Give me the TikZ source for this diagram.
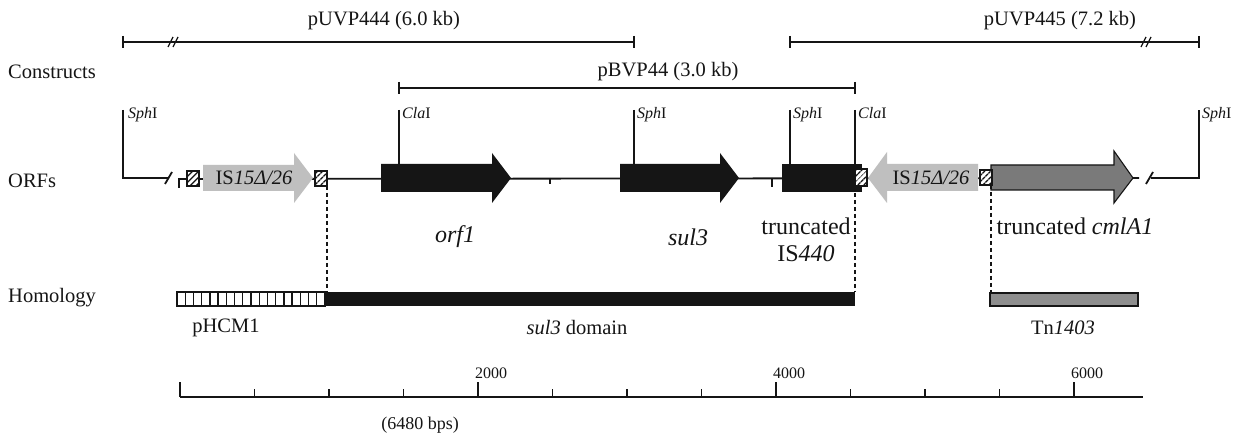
\documentclass[tikz,border=0pt]{standalone}
\usepackage{fontspec}
\setmainfont{Liberation Serif}
\usetikzlibrary{patterns.meta,calc}
\definecolor{ink}{HTML}{151515}
\definecolor{isgrey}{HTML}{BFBFBF}
\definecolor{cmlgrey}{HTML}{7A7A7A}
\definecolor{tngrey}{HTML}{8E8E8E}
\tikzset{
  lbl/.style={font=\fontsize{20.5}{24}\selectfont, inner sep=0pt, text=ink},
  orflbl/.style={font=\fontsize{24}{27}\selectfont, inner sep=0pt, text=ink},
  sitelbl/.style={font=\fontsize{16}{18}\selectfont, inner sep=0pt, anchor=north west, text=ink},
  numlbl/.style={font=\fontsize{16}{18}\selectfont, inner sep=0pt, anchor=south west, text=ink},
  mapline/.style={line width=1.8pt, draw=ink},
  dashline/.style={line width=1.4pt, draw=ink, dash pattern=on 4pt off 3pt},
  hatchbox/.style={draw=ink, line width=1.1pt, fill=white,
    postaction={pattern={Lines[angle=45,distance=4pt,line width=1.5pt]}, pattern color=ink}},
  blackgene/.style={fill=ink},
  isgene/.style={fill=isgrey},
  cmlgene/.style={fill=cmlgrey, draw=ink, line width=1.1pt},
}
\begin{document}
\begin{tikzpicture}[x=1pt,y=-1pt]
\useasboundingbox[fill=white] (0,0) rectangle (1235,438);

% ---------- row captions ----------
\node[lbl, anchor=west] (capC) at (8,72)  {Constructs};
\node[lbl, anchor=west] (capO) at (8,181) {ORFs};
\node[lbl, anchor=west] (capH) at (8,298) {Homology};

% ---------- constructs ----------
\coordinate (u4L) at (123,42);  \coordinate (u4R) at (634,42);
\coordinate (u5L) at (790,42);  \coordinate (u5R) at (1199,42);
\coordinate (b4L) at (399,88);  \coordinate (b4R) at (855,88);
\draw[mapline] (u4L) -- (u4R);
\draw[mapline] (u5L) -- (u5R);
\draw[mapline] (b4L) -- (b4R);
\foreach \c in {u4L,u4R,u5L,u5R,b4L,b4R}
  \draw[mapline] ($(\c)+(0,-6)$) -- ($(\c)+(0,6)$);
% scale breaks
\foreach \dx in {0,5} {
  \draw[mapline, line width=1.2pt] ($(u4L)+(45+\dx,5)$) -- ++(5,-10);
  \draw[mapline, line width=1.2pt] ($(u5R)+(-58+\dx,5)$) -- ++(5,-10);
}
\node[lbl] (t444) at (384,21) {pUVP444 (6.0 kb)};
\node[lbl] (t445) at (1060,21) {pUVP445 (7.2 kb)};
\node[lbl] (t44)  at (668,72) {pBVP44 (3.0 kb)};

% ---------- ORF backbone ----------
\draw[mapline] (123,110) -- (123,178) -- (168,178);
\draw[mapline] (165,184) -- (172,172);
\draw[mapline] (179,188) -- (179,179) -- (1139,178);
\draw[mapline] (1146,184) -- (1153,172);
\draw[mapline] (1151,178) -- (1199,178) -- (1199,110);
% small marks on the backbone
\draw[mapline] (550,178) -- (550,184);
\draw[mapline] (772,178) -- (772,187);

% restriction sites
\foreach \x/\name in {399/c1,634/s2,790/s3,855/c2}
  \draw[mapline] (\x,110) -- (\x,164);
\node[sitelbl] (sph1) at (128,107)  {\textit{Sph}I};
\node[sitelbl] (cla1) at (402,107)  {\textit{Cla}I};
\node[sitelbl] (sph2) at (637,107)  {\textit{Sph}I};
\node[sitelbl] (sph3) at (793,107)  {\textit{Sph}I};
\node[sitelbl] (cla2) at (858,107)  {\textit{Cla}I};
\node[sitelbl] (sph4) at (1202,107) {\textit{Sph}I};

% genes
\fill[isgene] (203,165) -- (294,165) -- (294,153) -- (313,178) -- (294,203) -- (294,191) -- (203,191) -- cycle;
\fill[blackgene] (381,164) -- (492,164) -- (492,153) -- (511,178) -- (492,203) -- (492,192) -- (381,192) -- cycle;
\fill[blackgene] (620,164) -- (720,164) -- (720,153) -- (739,178) -- (720,203) -- (720,192) -- (620,192) -- cycle;
\fill[blackgene] (782,164) rectangle (862,192);
\fill[isgene] (978,164) -- (887,164) -- (887,152) -- (868,178) -- (887,203) -- (887,191) -- (978,191) -- cycle;
\filldraw[cmlgene] (991,165) -- (1114,165) -- (1114,151) -- (1133,178) -- (1114,203) -- (1114,190) -- (991,190) -- cycle;

% inverted-repeat boxes
\draw[hatchbox] (187,171) rectangle (199,186);
\draw[hatchbox] (315,171) rectangle (327,186);
\draw[hatchbox] (855,169) rectangle (867,186);
\draw[hatchbox] (980,170) rectangle (992,185);
\coordinate (ir2) at (327,186);
\coordinate (ir3) at (855,186);
\coordinate (ir4) at (991,185);

\node[lbl] (is1) at (254,178) {IS\textit{15Δ/26}};
\node[lbl] (is2) at (931,178) {IS\textit{15Δ/26}};

% ORF captions
\node[orflbl] (orf1) at (455,237) {\textit{orf1}};
\node[orflbl] (sul3) at (688,237) {\textit{sul3}};
\node[orflbl, align=center] (is440) at (806,240) {truncated\\IS\textit{440}};
\node[orflbl] (cml) at (1075,226) {truncated \textit{cmlA1}};

% ---------- homology ----------
\coordinate (hA) at (177,292);
\coordinate (hB) at (325,306);
\draw[ink, line width=1.1pt, fill=white] (hA) rectangle (hB);
\foreach \k in {1,...,18}
  \draw[ink, line width=1.4pt] ($(hA)+(\k*8.22,0)$) -- ++(0,14);
\fill[ink] (325,292) rectangle (855,306);
\filldraw[fill=tngrey, draw=ink, line width=1.1pt] (990,293) rectangle (1138,306);
\coordinate (hTop1) at (327,292);
\coordinate (hTop2) at (855,292);
\coordinate (hTop3) at (991,293);
\draw[dashline] (ir2) -- (hTop1);
\draw[dashline] (ir3) -- (hTop2);
\draw[dashline] (ir4) -- (hTop3);

\node[lbl] (pH)  at (226,328) {pHCM1};
\node[lbl] (sd)  at (577,328) {\textit{sul3} domain};
\node[lbl] (tn)  at (1063,328) {Tn\textit{1403}};

% ---------- scale bar ----------
\coordinate (r0) at (180,397);
\draw[ink, line width=2pt] (r0) -- (1143,397);
\foreach \i in {0,...,12} {
  \pgfmathsetmacro\xx{180+74.5*\i}
  \pgfmathtruncatemacro\maj{mod(\i,4)==0 ? 1 : 0}
  \ifnum\maj=1
    \draw[ink, line width=1.6pt] (\xx,397) -- (\xx,382);
  \else
    \draw[ink, line width=1.4pt] (\xx,397) -- (\xx,389);
  \fi
}
\node[numlbl] (n2) at (475,379) {2000};
\node[numlbl] (n4) at (773,379) {4000};
\node[numlbl] (n6) at (1071,379) {6000};
\node[lbl, font=\fontsize{18}{20}\selectfont] (bps) at (420,425) {(6480 bps)};
\end{tikzpicture}
\end{document}
